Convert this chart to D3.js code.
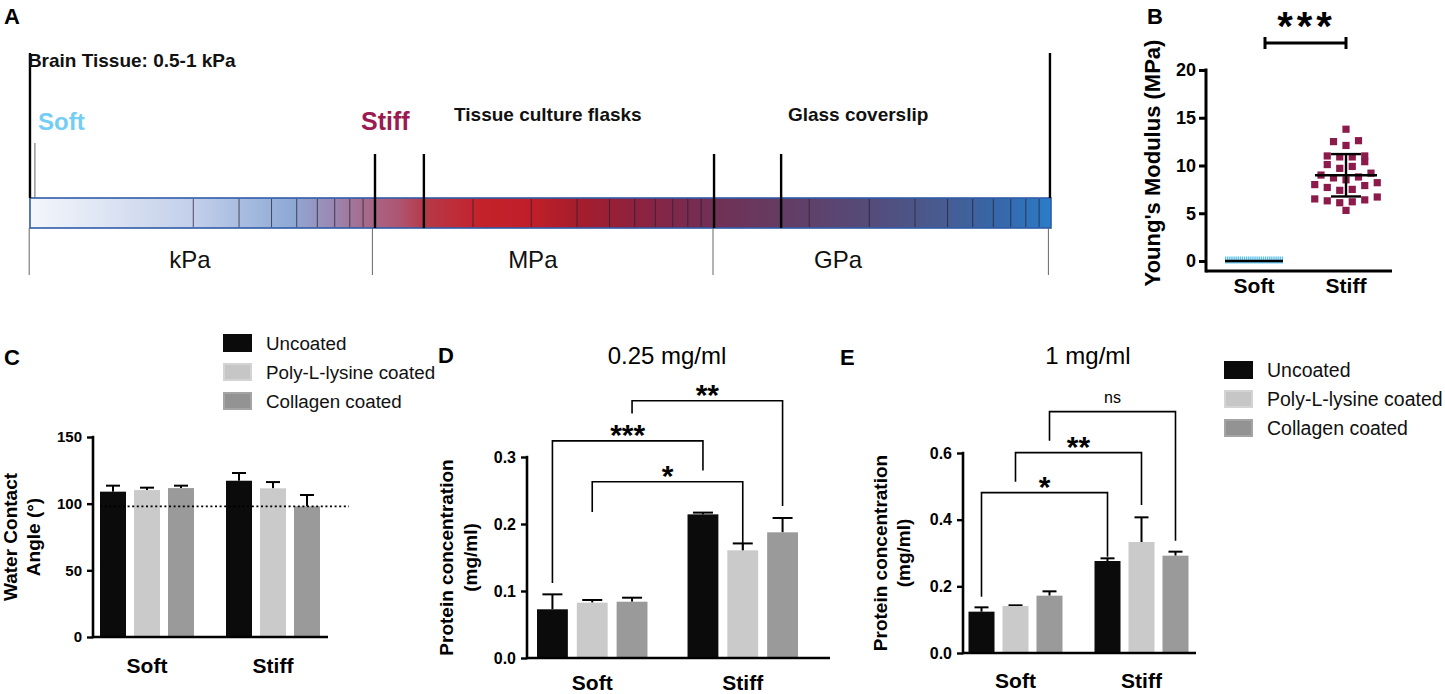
<!DOCTYPE html>
<html>
<head>
<meta charset="utf-8">
<script src="https://cdn.jsdelivr.net/npm/d3@7"></script>
<style>
  html, body { margin: 0; padding: 0; background: #fff; }
  svg { display: block; }
</style>
</head>
<body>
<svg id="fig" width="1445" height="694"></svg>
<script>
const fontStack = '"Liberation Sans", Arial, Helvetica, sans-serif';

// ---------- Panel A: stiffness bar (positions in decade units along the bar) ----------
const barExtent = [-0.327, 3.6];
const decadeStarts = [0, 1.3, 2.6];
const decadeSteps = [2, 3, 4, 5, 6, 7, 8, 9];
const extraDividers = [1.377, 2.67];
const rangeLabels = ["kPa", "MPa", "GPa"];
const rangeEdges = [-0.33, 0.99, 2.3, 3.59];
const rangeLabelAt = [0.288, 1.607, 2.781];
const tallLines = [-0.327, 3.596];
const softLine = -0.308;
const materialLines = [1.0, 1.188, 2.304, 2.562];
const gradientStops = [
  [-0.327, "#f4f6fb"], [0.296, "#c3d0ea"], [0.673, "#8faad6"], [0.838, "#9b88b2"],
  [0.954, "#a56c8d"], [1.096, "#ae5570"], [1.188, "#b63a4a"], [1.404, "#c4222b"],
  [1.608, "#c01f29"], [1.788, "#a51d2c"], [2.019, "#8c2240"], [2.25, "#752d52"],
  [2.562, "#643c63"], [2.896, "#554b79"], [3.173, "#485b90"], [3.404, "#3668aa"],
  [3.6, "#2a7dc8"]
];
const annotations = [
  { label: "Brain Tissue: 0.5-1 kPa", at: -0.335, y: 67, size: 19, color: "#111" },
  { label: "Soft", at: -0.296, y: 130, size: 24, color: "#74cdf4" },
  { label: "Stiff", at: 0.946, y: 130, size: 25, color: "#9b1a50" },
  { label: "Tissue culture flasks", at: 1.304, y: 121, size: 19, color: "#111" },
  { label: "Glass coverslip", at: 2.588, y: 121, size: 19, color: "#111" }
];

// ---------- Panel B: Young's modulus (MPa) ----------
const modulusGroups = ["Soft", "Stiff"];
const modulusSoft = [0.0006, 0.0007, 0.0008, 0.0005, 0.0009, 0.0007, 0.0006, 0.0008, 0.0010, 0.0007,
  0.0006, 0.0009, 0.0008, 0.0005, 0.0007, 0.0008, 0.0006, 0.0009, 0.0007, 0.0008,
  0.0006, 0.0010, 0.0007, 0.0005, 0.0008, 0.0009, 0.0006, 0.0007];
const modulusStiff = [5.3, 6.1, 6.2, 6.3, 6.4, 6.5, 6.7, 7.4, 7.5, 7.7, 7.9, 8.0, 8.2,
  8.5, 8.7, 8.8, 9.0, 9.2, 9.7, 9.9, 10.1, 10.4, 10.9, 10.9, 11.0, 11.0,
  12.1, 12.5, 12.6, 13.8];
const modulusTicks = [0, 5, 10, 15, 20];

// ---------- Panels C-E: grouped bars ----------
const groups = ["Soft", "Stiff"];
const coatings = ["Uncoated", "Poly-L-lysine coated", "Collagen coated"];
const coatFill = ["#0b0b0b", "#cacaca", "#9a9a9a"];
const swatchFill = ["#0b0b0b", "#c6c6c6", "#939393"];
const swatchEdge = ["#0b0b0b", "#d4d4d4", "#a4a4a4"];

const angleSoft = [109, 110.2, 111.7];
const angleSoftErr = [4.5, 1.8, 1.8];
const angleStiff = [117.2, 111.5, 98];
const angleStiffErr = [5.8, 4.7, 8.5];
const angleTicks = [0, 50, 100, 150];
const angleRef = 98;

const lowSoft = [0.0727, 0.0826, 0.084];
const lowSoftErr = [0.0223, 0.004, 0.006];
const lowStiff = [0.2144, 0.1607, 0.1876];
const lowStiffErr = [0.0026, 0.0103, 0.0214];
const lowTicks = [0, 0.1, 0.2, 0.3];
const lowBrackets = [
  { coat: 0, level: 0.324, softEnd: 0.112, stiffEnd: 0.28, label: "***" },
  { coat: 1, level: 0.263, softEnd: 0.218, stiffEnd: 0.161, label: "*" },
  { coat: 2, level: 0.384, softEnd: 0.365, stiffEnd: 0.227, label: "**" }
];

const highSoft = [0.124, 0.141, 0.172];
const highSoftErr = [0.013, 0.002, 0.013];
const highStiff = [0.276, 0.333, 0.292];
const highStiffErr = [0.008, 0.074, 0.012];
const highTicks = [0, 0.2, 0.4, 0.6];
const highBrackets = [
  { coat: 0, level: 0.481, softEnd: 0.169, stiffEnd: 0.289, label: "*" },
  { coat: 1, level: 0.601, softEnd: 0.514, stiffEnd: 0.444, label: "**" },
  { coat: 2, level: 0.724, softEnd: 0.637, stiffEnd: 0.337, label: "ns" }
];

const svg = d3.select("#fig").attr("font-family", fontStack);

function txt(g, s, x, y, size, weight, anchor) {
  return g.append("text").attr("x", x).attr("y", y).attr("font-size", size)
    .attr("font-weight", weight || "normal").attr("text-anchor", anchor || "start")
    .attr("fill", "#000").text(s);
}

function line(g, x1, y1, x2, y2, w, color) {
  return g.append("line").attr("x1", x1).attr("y1", y1).attr("x2", x2).attr("y2", y2)
    .attr("stroke", color || "#000").attr("stroke-width", w);
}

// panel letters
[["A", 4, 24], ["B", 1147, 24], ["C", 4, 365], ["D", 438, 363], ["E", 840, 365]]
  .forEach(([s, x, y]) => txt(svg, s, x, y, 22, "bold"));

// ================= Panel A =================
(function () {
  const g = svg.append("g");
  const xA = d3.scaleLinear().domain([0, 1]).range([115, 375]);
  const barTop = 198, barBottom = 228;

  const grad = svg.append("defs").append("linearGradient").attr("id", "stiffGrad")
    .attr("gradientUnits", "userSpaceOnUse")
    .attr("x1", xA(barExtent[0])).attr("x2", xA(barExtent[1])).attr("y1", 0).attr("y2", 0);
  const span = xA(barExtent[1]) - xA(barExtent[0]);
  gradientStops.forEach(([u, c]) => grad.append("stop")
    .attr("offset", (xA(u) - xA(barExtent[0])) / span).attr("stop-color", c));

  g.append("rect").attr("x", xA(barExtent[0])).attr("y", barTop)
    .attr("width", span).attr("height", barBottom - barTop)
    .attr("fill", "url(#stiffGrad)").attr("stroke", "#2f5ca8").attr("stroke-width", 1.6);

  const dividers = decadeStarts.flatMap(d => decadeSteps.map(k => d + Math.log10(k))).concat(extraDividers);
  g.selectAll(".div").data(dividers).join("line")
    .attr("x1", d => xA(d)).attr("x2", d => xA(d))
    .attr("y1", barTop + 1).attr("y2", barBottom - 1)
    .attr("stroke", "#2a2030").attr("stroke-opacity", 0.75).attr("stroke-width", 1);

  // range separators and unit labels
  rangeEdges.forEach(u => line(g, xA(u), barBottom, xA(u), 275, 1, "#666"));
  rangeLabels.forEach((s, i) => txt(g, s, xA(rangeLabelAt[i]), 268, 24, "normal", "middle").attr("fill", "#111"));

  // annotation lines
  tallLines.forEach(u => line(g, xA(u), 53, xA(u), barTop, 2.4));
  line(g, xA(softLine), 143, xA(softLine), barTop, 1, "#666");
  materialLines.forEach(u => line(g, xA(u), 154, xA(u), barBottom, 2.4));

  annotations.forEach(a => txt(g, a.label, xA(a.at), a.y, a.size, "bold").attr("fill", a.color));
})();

// ================= Panel B =================
(function () {
  const g = svg.append("g");
  const yB = d3.scaleLinear().domain([0, 20]).range([261, 70]);
  const xB = d3.scalePoint().domain(modulusGroups).range([1254, 1346]);
  const axisX = 1206, axisBottom = 271, axisRight = 1392;

  const ax = g.append("g").attr("transform", `translate(${axisX},0)`)
    .call(d3.axisLeft(yB).tickValues(modulusTicks).tickSize(7).tickSizeOuter(0).tickPadding(3));
  ax.select(".domain").remove();
  ax.selectAll(".tick line").attr("stroke", "#000").attr("stroke-width", 3);
  ax.selectAll(".tick text").attr("font-size", 18).attr("font-weight", "bold")
    .attr("font-family", fontStack).attr("fill", "#000");
  line(g, axisX, yB(20) - 1.5, axisX, axisBottom + 1.5, 3);
  line(g, axisX, axisBottom, axisRight, axisBottom, 3);

  modulusGroups.forEach(s => txt(g, s, xB(s), 293, 21, "bold", "middle"));
  txt(g, "Young's Modulus (MPa)", 0, 0, 22, "bold", "middle")
    .attr("transform", `translate(1160,163) rotate(-90)`);

  function swarm(values, binOf, gap) {
    const out = [];
    d3.groups(values, binOf).forEach(([, vs]) => {
      const sorted = vs.slice().sort(d3.ascending);
      const n = sorted.length;
      const slots = d3.range(n).map(i => i - (n - 1) / 2)
        .sort((a, b) => Math.abs(a) - Math.abs(b) || a - b);
      sorted.forEach((v, i) => out.push({ v, dx: slots[i] * gap }));
    });
    return out;
  }

  // soft: tiny values drawn as thin light-blue marks
  const soft = swarm(modulusSoft, () => 0, 2.1);
  g.append("rect").attr("x", xB("Soft") - 29).attr("y", yB(0)).attr("width", 58).attr("height", 2.5)
    .attr("fill", "#6cc8f0");
  g.selectAll(".soft").data(soft).join("rect")
    .attr("x", d => xB("Soft") + d.dx - 0.7).attr("y", d => yB(d.v) - 4.5)
    .attr("width", 1.4).attr("height", 5).attr("fill", "#5cc3ef");
  const softMean = d3.mean(modulusSoft);
  line(g, xB("Soft") - 29, yB(softMean), xB("Soft") + 29, yB(softMean), 2.6);

  // stiff: squares
  const stiff = swarm(modulusStiff, v => Math.floor((v - 4.85) / 1.2), 12.5);
  g.selectAll(".stiff").data(stiff).join("rect")
    .attr("x", d => xB("Stiff") + d.dx - 3.6).attr("y", d => yB(d.v) - 3.6)
    .attr("width", 7.2).attr("height", 7.2).attr("fill", "#8c1a4b");
  const m = d3.mean(modulusStiff), sd = d3.deviation(modulusStiff);
  const cx = xB("Stiff");
  line(g, cx - 31, yB(m), cx + 31, yB(m), 2.4);
  line(g, cx, yB(m - sd), cx, yB(m + sd), 2.4);
  line(g, cx - 15, yB(m - sd), cx + 15, yB(m - sd), 2.4);
  line(g, cx - 15, yB(m + sd), cx + 15, yB(m + sd), 2.4);

  // significance bracket
  const bl = xB("Soft") + 11, br = xB("Stiff");
  line(g, bl, 43, br, 43, 3);
  line(g, bl, 37, bl, 49, 3);
  line(g, br, 37, br, 49, 3);
  txt(g, "***", (bl + br) / 2 + 1, 40, 40, "bold", "middle").attr("letter-spacing", 4);
})();

// ================= Bar panels C, D, E =================
function drawBarPanel(cfg) {
  const g = svg.append("g");
  const y = d3.scaleLinear().domain([0, cfg.yMax]).range([cfg.bottom, cfg.top]);
  const x0 = d3.scaleBand().domain(groups).range(cfg.groupRange).paddingInner(cfg.groupPad);
  const x1 = d3.scaleBand().domain(coatings).range([0, x0.bandwidth()]).paddingInner(cfg.barPad);
  const center = (grp, i) => x0(grp) + x1(coatings[i]) + x1.bandwidth() / 2;

  const rows = [];
  groups.forEach((grp, gi) => coatings.forEach((c, i) => rows.push({
    grp, i, v: (gi === 0 ? cfg.soft : cfg.stiff)[i], e: (gi === 0 ? cfg.softErr : cfg.stiffErr)[i]
  })));

  // error bars (drawn before bars, upward only)
  rows.forEach(r => {
    const cx = center(r.grp, r.i);
    line(g, cx, y(r.v), cx, y(r.v + r.e), 2);
    line(g, cx - cfg.cap, y(r.v + r.e), cx + cfg.cap, y(r.v + r.e), 2);
  });

  g.selectAll(".bar").data(rows).join("rect")
    .attr("x", d => x0(d.grp) + x1(coatings[d.i])).attr("y", d => y(d.v))
    .attr("width", x1.bandwidth()).attr("height", d => y(0) - y(d.v))
    .attr("fill", d => coatFill[d.i]);

  if (cfg.refLine != null) {
    g.append("line").attr("x1", cfg.groupRange[0]).attr("x2", cfg.right + 21)
      .attr("y1", y(cfg.refLine)).attr("y2", y(cfg.refLine))
      .attr("stroke", "#000").attr("stroke-width", 1.6).attr("stroke-dasharray", "2,2.6");
  }

  // axes
  const ax = g.append("g").attr("transform", `translate(${cfg.left},0)`)
    .call(d3.axisLeft(y).tickValues(cfg.ticks).tickFormat(cfg.fmt).tickSize(6).tickSizeOuter(0).tickPadding(5));
  ax.select(".domain").remove();
  ax.selectAll(".tick line").attr("stroke", "#000").attr("stroke-width", 2.4);
  ax.selectAll(".tick text").attr("font-size", cfg.tickSize).attr("font-weight", "bold")
    .attr("font-family", fontStack).attr("fill", "#000");
  line(g, cfg.left, y(cfg.yMax) - 1.2, cfg.left, cfg.bottom + 1.2, 2.6);
  line(g, cfg.left, cfg.bottom, cfg.right, cfg.bottom, 2.6);

  groups.forEach(grp => txt(g, grp, x0(grp) + x0.bandwidth() / 2, cfg.labelY, 21, "bold", "middle"));

  cfg.titleLines.forEach((s, i) => txt(g, s, 0, 0, 19, "bold", "middle")
    .attr("transform", `translate(${cfg.titleX[i]},${(cfg.top + cfg.bottom) / 2}) rotate(-90)`));

  if (cfg.heading) txt(g, cfg.heading, cfg.headingX, 364, 24, "normal", "middle");

  (cfg.brackets || []).forEach(b => {
    const xa = center("Soft", b.coat), xb = center("Stiff", b.coat);
    g.append("path")
      .attr("d", `M${xa},${y(b.softEnd)}V${y(b.level)}H${xb}V${y(b.stiffEnd)}`)
      .attr("fill", "none").attr("stroke", "#000").attr("stroke-width", 1.6);
    if (b.label === "ns") {
      txt(g, b.label, (xa + xb) / 2, y(b.level) - 9, 16, "normal", "middle");
    } else {
      txt(g, b.label, (xa + xb) / 2, y(b.level) + 4, 30, "bold", "middle");
    }
  });

  if (cfg.legend) {
    const [lx, ly] = cfg.legend;
    coatings.forEach((c, i) => {
      g.append("rect").attr("x", lx + 1).attr("y", ly + i * 29 + 1).attr("width", 27).attr("height", 16)
        .attr("fill", swatchFill[i]).attr("stroke", swatchEdge[i]).attr("stroke-width", 2);
      txt(g, c, lx + 43, ly + i * 29 + 15.5, cfg.legendSize, "normal").attr("fill", "#111");
    });
  }
}

drawBarPanel({
  left: 93, right: 328, top: 437, bottom: 637, yMax: 150,
  groupRange: [100, 320], groupPad: 0.254, barPad: 0.235, cap: 7,
  soft: angleSoft, softErr: angleSoftErr, stiff: angleStiff, stiffErr: angleStiffErr,
  ticks: angleTicks, fmt: d3.format("d"), refLine: angleRef, tickSize: 15,
  labelY: 673, titleLines: ["Water Contact", "Angle (°)"], titleX: [17, 40],
  legend: [223, 334], legendSize: 18.8
});

drawBarPanel({
  left: 527, right: 830, top: 457, bottom: 658, yMax: 0.3,
  groupRange: [537, 798], groupPad: 0.266, barPad: 0.225, cap: 10,
  soft: lowSoft, softErr: lowSoftErr, stiff: lowStiff, stiffErr: lowStiffErr,
  ticks: lowTicks, fmt: d3.format(".1f"), tickSize: 16,
  labelY: 690, titleLines: ["Protein concentration", "(mg/ml)"], titleX: [453, 477],
  heading: "0.25 mg/ml", headingX: 667, brackets: lowBrackets
});

drawBarPanel({
  left: 963, right: 1196, top: 453, bottom: 653, yMax: 0.6,
  groupRange: [968.5, 1188.5], groupPad: 0.254, barPad: 0.235, cap: 7,
  soft: highSoft, softErr: highSoftErr, stiff: highStiff, stiffErr: highStiffErr,
  ticks: highTicks, fmt: d3.format(".1f"), tickSize: 16,
  labelY: 688, titleLines: ["Protein concentration", "(mg/ml)"], titleX: [887, 910],
  heading: "1 mg/ml", headingX: 1088, brackets: highBrackets,
  legend: [1224, 361], legendSize: 19.5
});
</script>
</body>
</html>
